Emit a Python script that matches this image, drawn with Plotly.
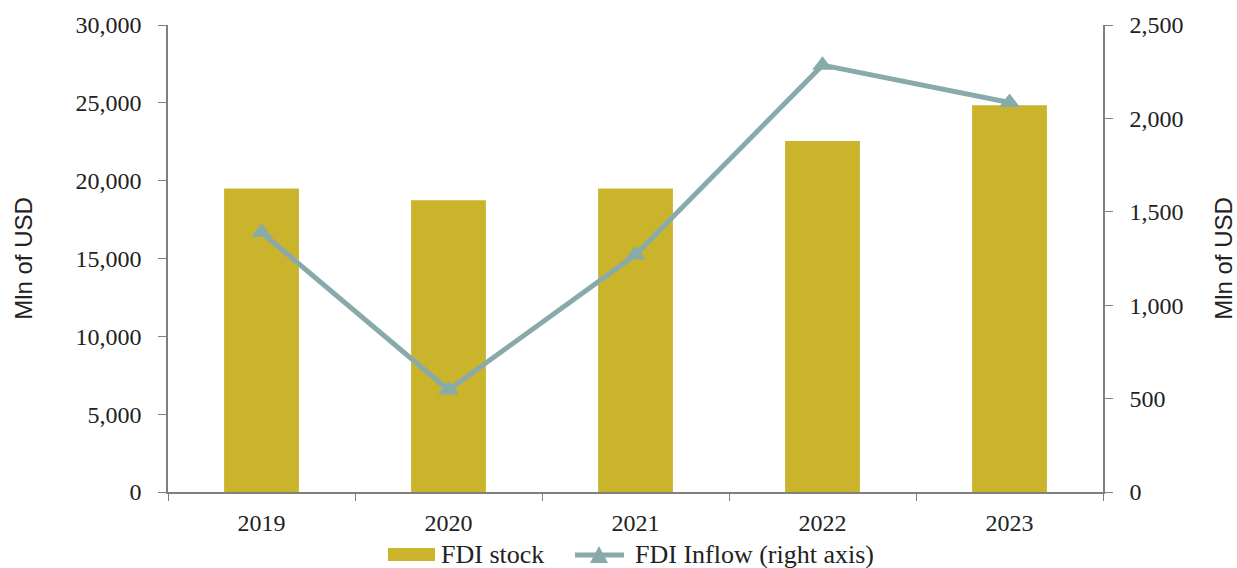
import plotly.graph_objects as go

years = ["2019", "2020", "2021", "2022", "2023"]
fdi_stock = [19500, 18750, 19500, 22550, 24850]
fdi_inflow = [1390, 546, 1270, 2285, 2085]

left_ticks = [0, 5000, 10000, 15000, 20000, 25000, 30000]
right_ticks = [0, 500, 1000, 1500, 2000, 2500]

bar_color = "#CAB42C"
line_color = "#88AAAA"
axis_color = "#7F7F7F"
text_color = "#222222"
serif = "Liberation Serif"
sans = "Liberation Sans"

W, H = 1237, 568
L, R, T, B = 168, 134, 25, 76
plot_w, plot_h = W - L - R, H - T - B


def px(x):
    return (x - L) / plot_w


def py(y):
    return (H - B - y) / plot_h


fig = go.Figure()
fig.add_trace(go.Bar(
    x=years, y=fdi_stock, name="FDI stock",
    marker=dict(color=bar_color, line=dict(width=0)),
    width=0.4, yaxis="y", showlegend=False,
))
fig.add_trace(go.Scatter(
    x=years, y=fdi_inflow, name="FDI Inflow (right axis)",
    mode="lines+markers",
    line=dict(color=line_color, width=5),
    marker=dict(symbol="triangle-up", size=18, color=line_color),
    yaxis="y2", showlegend=False,
))

# Legend drawn below the plot: bar swatch, line-with-triangle swatch and labels
shapes = [
    dict(type="rect", xref="paper", yref="paper",
         x0=px(388), x1=px(435), y0=py(561), y1=py(548),
         fillcolor=bar_color, line=dict(width=0)),
    dict(type="line", xref="paper", yref="paper",
         x0=px(575), x1=px(624), y0=py(555), y1=py(555),
         line=dict(color=line_color, width=5)),
    dict(type="path", xref="paper", yref="paper",
         path=f"M {px(590)} {py(563)} L {px(608)} {py(563)} L {px(599)} {py(546)} Z",
         fillcolor=line_color, line=dict(width=0)),
]
annotations = [
    dict(text="FDI stock", xref="paper", yref="paper", x=px(439), y=py(554),
         xanchor="left", yanchor="middle", showarrow=False,
         font=dict(family=serif, size=26, color=text_color)),
    dict(text="FDI Inflow (right axis)", xref="paper", yref="paper", x=px(633), y=py(554),
         xanchor="left", yanchor="middle", showarrow=False,
         font=dict(family=serif, size=26, color=text_color)),
]

fig.update_layout(
    width=W, height=H,
    margin=dict(l=L, r=R, t=T, b=B, autoexpand=False),
    paper_bgcolor="white", plot_bgcolor="white",
    font=dict(family=serif, size=24, color=text_color),
    showlegend=False,
    shapes=shapes,
    annotations=annotations,
    xaxis=dict(
        type="category", showline=True, linecolor=axis_color, linewidth=1.5,
        ticks="outside", tickson="boundaries", ticklen=7, tickcolor=axis_color,
        showgrid=False, tickfont=dict(family=serif, size=24, color=text_color),
        ticklabelstandoff=8,
    ),
    yaxis=dict(
        range=[0, 30000], tickvals=left_ticks,
        ticktext=[f"{v:,}" for v in left_ticks],
        showline=True, linecolor=axis_color, linewidth=1.5,
        ticks="outside", ticklen=8, tickcolor=axis_color,
        showgrid=False, zeroline=False,
        tickfont=dict(family=serif, size=24, color=text_color),
        ticklabelstandoff=12,
        title=dict(text="Mln of USD", font=dict(family=sans, size=24, color=text_color), standoff=36),
    ),
    yaxis2=dict(
        range=[0, 2500], tickvals=right_ticks,
        ticktext=[f"{v:,}" for v in right_ticks],
        overlaying="y", side="right",
        showline=True, linecolor=axis_color, linewidth=1.5,
        ticks="outside", ticklen=8, tickcolor=axis_color,
        showgrid=False, zeroline=False,
        tickfont=dict(family=serif, size=24, color=text_color),
        ticklabelstandoff=12,
        title=dict(text="Mln of USD", font=dict(family=sans, size=24, color=text_color), standoff=33),
    ),
)

fig.write_html("out.html")
